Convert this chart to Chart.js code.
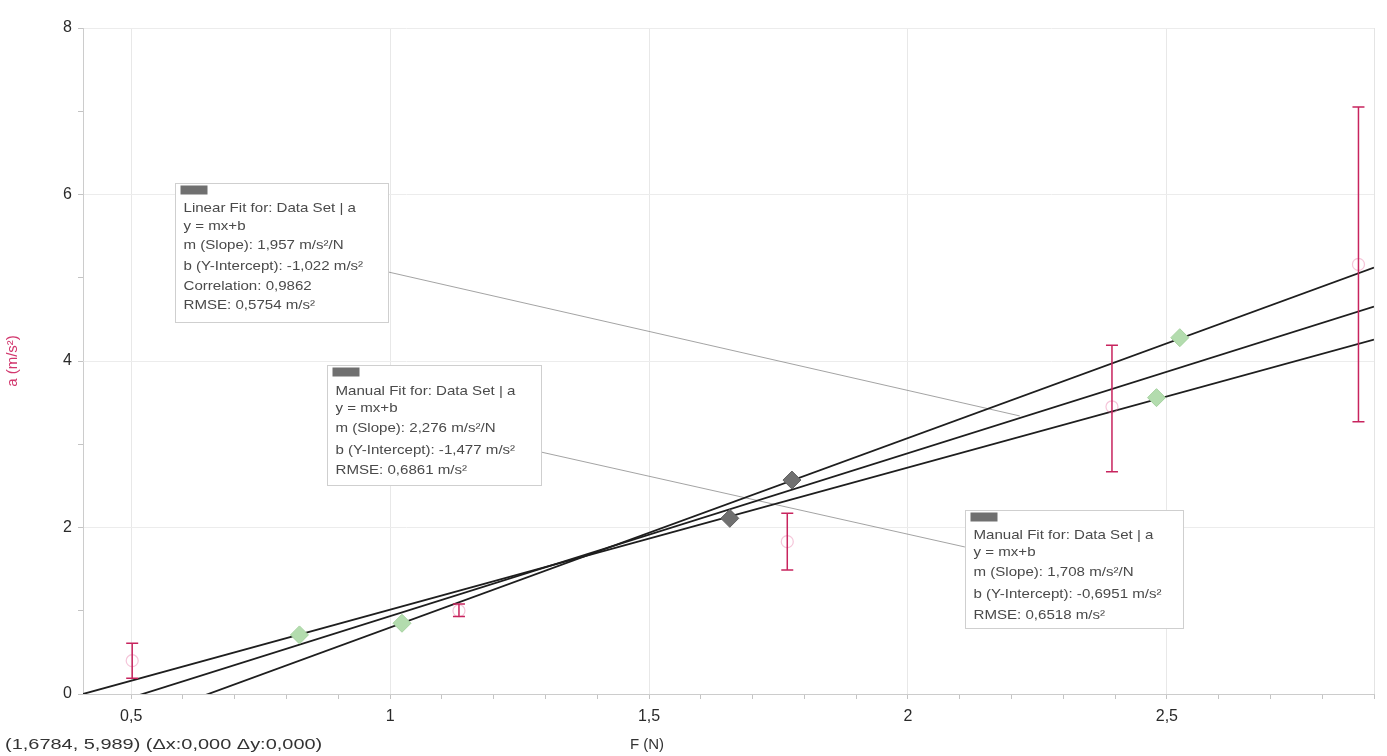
<!DOCTYPE html>
<html>
<head>
<meta charset="utf-8">
<script src="https://cdn.jsdelivr.net/npm/chart.js@4.4.1/dist/chart.umd.min.js"></script>
<style>
  body { margin: 0; background: #fff; }
  #wrap { width: 1387px; height: 756px; }
</style>
</head>
<body>
<div id="wrap"><canvas id="chart" width="1387" height="756"></canvas></div>
<script>
// axis ranges and tick labels
const xMin = 0.407, xMax = 2.9;
const yMin = 0, yMax = 8;
const xMajorTicks = [0.5, 1, 1.5, 2, 2.5];
const yMajorTicks = [0, 2, 4, 6, 8];
const xTitle = 'F (N)';
const yTitle = 'a (m/s²)';

// measured data with error bars
const errX = [0.502, 1.133, 1.767, 2.394, 2.870];
const errY = [0.40, 1.00, 1.83, 3.45, 5.16];
const errLow = [0.19, 0.93, 1.49, 2.67, 3.27];
const errHigh = [0.61, 1.08, 2.17, 4.19, 7.05];

// manual fit handles
const handleGreenX = [0.825, 1.023, 2.48, 2.525];
const handleGreenY = [0.71, 0.85, 3.56, 4.28];
const handleGrayX = [1.656, 1.776];
const handleGrayY = [2.11, 2.57];

// fits: slope, intercept
const fitSlopes = [1.957, 2.276, 1.708];
const fitIntercepts = [-1.022, -1.477, -0.6951];

// annotation boxes (top-left anchor in data units) and their text
const boxX = [0.585, 0.878, 2.110];
const boxY = [6.14, 3.95, 2.21];
const boxW = [213, 214, 218];
const boxH = [139, 120, 118];
const boxLines = [
  ['Linear Fit for: Data Set | a', 'y = mx+b', 'm (Slope): 1,957 m/s²/N', 'b (Y-Intercept): -1,022 m/s²', 'Correlation: 0,9862', 'RMSE: 0,5754 m/s²'],
  ['Manual Fit for: Data Set | a', 'y = mx+b', 'm (Slope): 2,276 m/s²/N', 'b (Y-Intercept): -1,477 m/s²', 'RMSE: 0,6861 m/s²'],
  ['Manual Fit for: Data Set | a', 'y = mx+b', 'm (Slope): 1,708 m/s²/N', 'b (Y-Intercept): -0,6951 m/s²', 'RMSE: 0,6518 m/s²']
];
const boxLineOffsets = [[25, 43, 62, 83, 103, 122], [26, 43, 63, 85, 105], [25, 42, 62, 84, 105]];

// leader lines from boxes to fits
const leaderX = [[0.996, 2.216], [1.291, 2.110]];
const leaderY = [[5.07, 3.34], [2.907, 1.766]];

const statusText = '(1,6784, 5,989) (Δx:0,000 Δy:0,000)';

const FONT = '"Liberation Sans", Arial, sans-serif';
const fmt = v => String(v).replace('.', ',');
const isMajor = (list, v) => list.some(t => Math.abs(t - v) < 1e-6);

const xTicksAll = [];
for (let v = 0.5; v <= 2.9001; v += 0.1) xTicksAll.push(Math.round(v * 10) / 10);
const yTicksAll = [0, 1, 2, 3, 4, 5, 6, 7, 8];

const datasets = [];

fitSlopes.forEach((m, i) => {
  datasets.push({
    type: 'line',
    data: [{ x: xMin, y: m * xMin + fitIntercepts[i] }, { x: xMax, y: m * xMax + fitIntercepts[i] }],
    borderColor: '#1e1e1e',
    borderWidth: 1.8,
    pointRadius: 0,
    order: 2
  });
});

leaderX.forEach((xs, i) => {
  datasets.push({
    type: 'line',
    data: xs.map((x, j) => ({ x: x, y: leaderY[i][j] })),
    borderColor: '#8c8c8c',
    borderWidth: 0.8,
    pointRadius: 0,
    order: 3
  });
});

datasets.push({
  type: 'scatter',
  data: errX.map((x, i) => ({ x: x, y: errY[i] })),
  pointStyle: 'circle',
  pointRadius: 6,
  backgroundColor: 'rgba(255,255,255,0)',
  borderColor: 'rgba(230,110,160,0.4)',
  borderWidth: 1.2,
  order: 1
});

datasets.push({
  type: 'scatter',
  data: handleGreenX.map((x, i) => ({ x: x, y: handleGreenY[i] })),
  pointStyle: 'rectRot',
  pointRadius: 9,
  backgroundColor: '#b3dcae',
  borderColor: '#a5d29f',
  borderWidth: 1,
  order: 0
});

datasets.push({
  type: 'scatter',
  data: handleGrayX.map((x, i) => ({ x: x, y: handleGrayY[i] })),
  pointStyle: 'rectRot',
  pointRadius: 9,
  backgroundColor: '#707070',
  borderColor: '#606060',
  borderWidth: 1,
  order: 0
});

const errorBars = {
  id: 'errorBars',
  afterDatasetsDraw(chart) {
    const { ctx, scales: { x, y } } = chart;
    ctx.save();
    ctx.strokeStyle = '#c8245e';
    ctx.lineWidth = 1.5;
    errX.forEach((v, i) => {
      const px = x.getPixelForValue(v);
      const top = y.getPixelForValue(errHigh[i]);
      const bot = y.getPixelForValue(errLow[i]);
      ctx.beginPath();
      ctx.moveTo(px, top); ctx.lineTo(px, bot);
      ctx.moveTo(px - 6, top); ctx.lineTo(px + 6, top);
      ctx.moveTo(px - 6, bot); ctx.lineTo(px + 6, bot);
      ctx.stroke();
    });
    ctx.restore();
  }
};

const frame = {
  id: 'frame',
  beforeDatasetsDraw(chart) {
    const { ctx, chartArea: a } = chart;
    ctx.save();
    ctx.strokeStyle = '#e4e4e4';
    ctx.lineWidth = 1;
    ctx.beginPath();
    ctx.moveTo(a.right + 0.5, a.top); ctx.lineTo(a.right + 0.5, a.bottom);
    ctx.stroke();
    ctx.restore();
  }
};

// draws text stretched horizontally
function wideText(ctx, text, x, y, sx) {
  ctx.save();
  ctx.translate(x, y);
  ctx.scale(sx, 1);
  ctx.fillText(text, 0, 0);
  ctx.restore();
}

const boxes = {
  id: 'boxes',
  afterDraw(chart) {
    const { ctx, scales: { x, y } } = chart;
    ctx.save();
    boxX.forEach((bx, i) => {
      const left = Math.round(x.getPixelForValue(bx)) + 0.5;
      const top = Math.round(y.getPixelForValue(boxY[i])) + 0.5;
      ctx.fillStyle = '#ffffff';
      ctx.fillRect(left, top, boxW[i], boxH[i]);
      ctx.strokeStyle = '#cfcfcf';
      ctx.lineWidth = 1;
      ctx.strokeRect(left, top, boxW[i], boxH[i]);
      ctx.fillStyle = '#707070';
      ctx.fillRect(left + 5, top + 2, 27, 9);
      ctx.fillStyle = '#4a4a4a';
      ctx.font = '13px ' + FONT;
      ctx.textBaseline = 'middle';
      ctx.textAlign = 'left';
      boxLines[i].forEach((t, j) => wideText(ctx, t, left + 8, top + boxLineOffsets[i][j], 1.16));
    });
    ctx.fillStyle = '#333';
    ctx.textBaseline = 'middle';
    ctx.font = '15px ' + FONT;
    wideText(ctx, statusText, 5, 745, 1.33);
    ctx.textAlign = 'center';
    ctx.fillText(xTitle, x.getPixelForValue(1.5) - 2, 745);
    ctx.restore();
  }
};

new Chart(document.getElementById('chart'), {
  data: { datasets: datasets },
  plugins: [frame, errorBars, boxes],
  options: {
    responsive: false,
    animation: false,
    layout: { padding: { top: 28, right: 13, left: 0, bottom: 0 } },
    plugins: { legend: { display: false }, tooltip: { enabled: false } },
    scales: {
      x: {
        type: 'linear',
        min: xMin,
        max: xMax,
        afterBuildTicks: s => { s.ticks = xTicksAll.map(v => ({ value: v })); },
        afterFit: s => { s.height = 62; },
        ticks: {
          autoSkip: false,
          maxRotation: 0,
          padding: 8,
          color: '#2a2a2a',
          font: { family: FONT, size: 16 },
          callback: v => isMajor(xMajorTicks, v) ? fmt(v) : ''
        },
        grid: {
          color: c => isMajor(xMajorTicks, c.tick.value) ? '#e8e8e8' : 'rgba(0,0,0,0)',
          tickColor: '#c4c4c4',
          tickLength: 5
        },
        border: { color: '#cccccc' }
      },
      y: {
        type: 'linear',
        min: yMin,
        max: yMax,
        afterBuildTicks: s => { s.ticks = yTicksAll.map(v => ({ value: v })); },
        afterFit: s => { s.width = 83; },
        ticks: {
          autoSkip: false,
          padding: 6,
          color: '#2a2a2a',
          font: { family: FONT, size: 16 },
          callback: v => isMajor(yMajorTicks, v) ? fmt(v) : ''
        },
        grid: {
          color: c => (isMajor(yMajorTicks, c.tick.value) && c.tick.value !== 0) ? '#ececec' : 'rgba(0,0,0,0)',
          tickColor: '#c4c4c4',
          tickLength: 5
        },
        border: { color: '#cccccc' },
        title: {
          display: true,
          text: yTitle,
          color: '#d2386e',
          font: { family: FONT, size: 15 },
          padding: { top: 4, bottom: 0 }
        }
      }
    }
  }
});
</script>
</body>
</html>
